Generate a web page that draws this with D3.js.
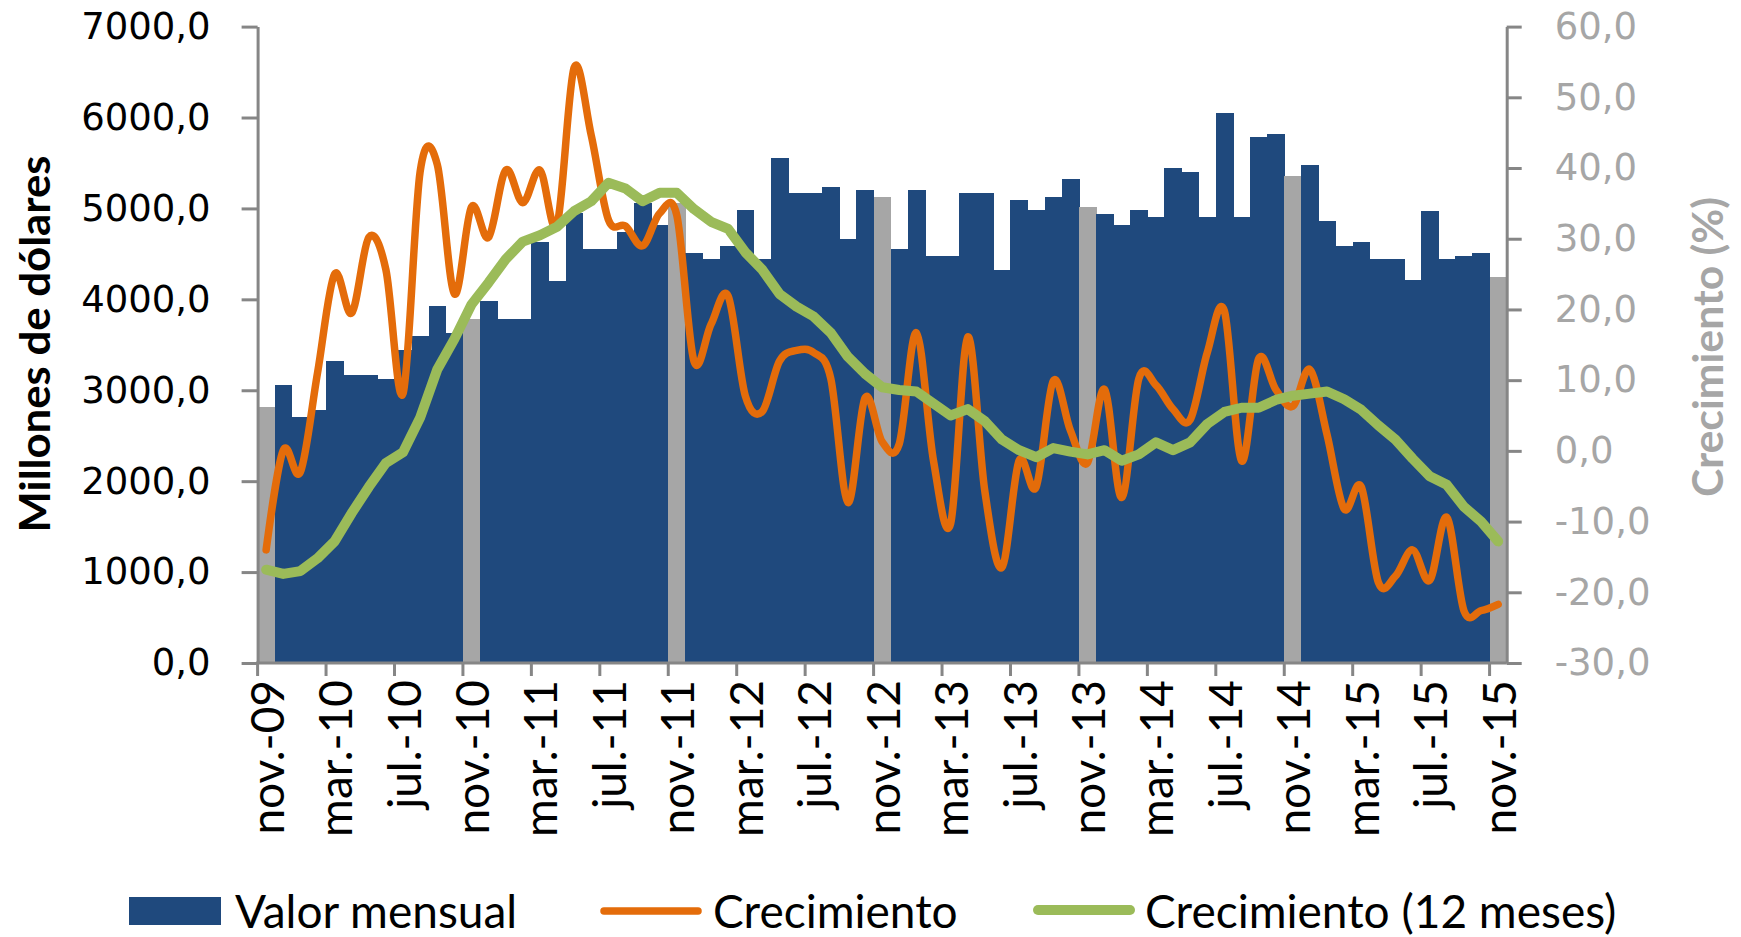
<!DOCTYPE html>
<html>
<head>
<meta charset="utf-8">
<script src="https://cdn.jsdelivr.net/npm/d3@7"></script>
<style>
  body { margin: 0; background: #fff; }
  svg { display: block; }
</style>
</head>
<body>
<svg id="chart" width="1741" height="937"></svg>
<script>
// monthly values, nov-09 .. nov-15
const valorMensual = [2820, 3053, 2709, 2785, 3321, 3168, 3168, 3129, 3440, 3593,
    3932, 3631, 3784, 3980, 3784, 3784, 4630, 4204, 4945, 4553,
    4553, 4744, 5065, 4821, 5055, 4515, 4439, 4591, 4978, 4439,
    5552, 5170, 5170, 5241, 4668, 5203, 5127, 4553, 5203, 4477,
    4477, 5170, 5170, 4324, 5088, 4978, 5131, 5323, 5017, 4940,
    4821, 4978, 4907, 5442, 5399, 4907, 6054, 4907, 5781, 5819,
    5356, 5475, 4864, 4591, 4630, 4439, 4439, 4209, 4974, 4439,
    4477, 4515, 4248];

const crecimiento = [-14.0, 0.1, -3.0, 11.0, 25.0, 19.5, 30.2, 25.6, 8.1, 39.5,
    40.5, 22.2, 34.5, 30.2, 39.7, 35.1, 39.7, 32.0, 54.2, 44.6,
    32.7, 31.8, 29.0, 33.6, 33.3, 12.7, 17.9, 21.9, 7.8, 5.6,
    12.7, 14.2, 13.9, 10.2, -7.3, 7.5, 1.3, 1.0, 16.7, -1.4,
    -10.3, 16.1, -5.7, -16.5, -1.4, -5.1, 9.9, 2.9, -1.7, 8.7,
    -6.6, 10.2, 9.3, 5.9, 4.4, 13.9, 19.8, -1.4, 13.0, 8.7,
    6.3, 11.5, 2.3, -8.2, -5.1, -18.6, -17.7, -14.0, -18.3, -9.4,
    -22.6, -22.6, -21.7];

const crecimiento12 = [-16.8, -17.4, -17.0, -15.2, -12.8, -8.8, -5.1, -1.7, -0.2, 4.7,
    11.5, 15.8, 20.7, 23.8, 27.1, 29.6, 30.5, 31.7, 33.9, 35.3,
    37.9, 37.1, 35.3, 36.5, 36.5, 34.2, 32.4, 31.4, 28.1, 25.6,
    22.2, 20.4, 19.0, 16.7, 13.3, 10.9, 9.0, 8.6, 8.4, 6.7,
    5.0, 5.9, 4.2, 1.6, 0.1, -0.9, 0.4, -0.1, -0.5, 0.1,
    -1.4, -0.5, 1.2, 0.1, 1.2, 3.8, 5.5, 6.1, 6.1, 7.2,
    7.8, 8.1, 8.4, 7.3, 5.8, 3.6, 1.6, -1.1, -3.6, -4.8,
    -7.9, -10.0, -12.8];

const monthNames = ["nov.", "dic.", "ene.", "feb.", "mar.", "abr.", "may.", "jun.", "jul.", "ago.", "sep.", "oct."];
const firstYear = 9;

const leftTicks = [0, 1000, 2000, 3000, 4000, 5000, 6000, 7000];
const rightTicks = [-30, -20, -10, 0, 10, 20, 30, 40, 50, 60];

const legendItems = ["Valor mensual", "Crecimiento", "Crecimiento (12 meses)"];
const leftTitle = "Millones de dólares";
const rightTitle = "Crecimiento (%)";

// month labels like "nov.-09"
const months = valorMensual.map((d, i) => {
    let y = firstYear + Math.floor((i + 10) / 12);
    return monthNames[i % 12] + "-" + String(y).padStart(2, "0");
});

const colors = { bar: "#1f497d", nov: "#a6a6a6", orange: "#e46c0a", green: "#9bbb59", axis: "#868686", grey: "#a6a6a6" };

const plotLeft = 257.6, plotRight = 1506.7, plotTop = 26.6, plotBottom = 663;

const svg = d3.select("#chart");

const x = d3.scaleBand().domain(months).range([plotLeft, plotRight]).padding(0);
const yL = d3.scaleLinear().domain([0, 7000]).range([plotBottom, plotTop]);
const yR = d3.scaleLinear().domain([-30, 60]).range([plotBottom, plotTop]);

const loc = d3.formatLocale({ decimal: ",", thousands: ".", grouping: [3], currency: ["$", ""], minus: "-" });
const fmt = loc.format(".1f");

// bars
svg.append("g")
    .attr("shape-rendering", "crispEdges")
    .selectAll("rect")
    .data(valorMensual)
    .enter()
    .append("rect")
    .attr("x", (d, i) => x(months[i]))
    .attr("y", d => yL(d))
    .attr("width", x.bandwidth() + 0.6)
    .attr("height", d => plotBottom - yL(d))
    .attr("fill", (d, i) => months[i].startsWith("nov") ? colors.nov : colors.bar);

// left axis
const axL = svg.append("g")
    .attr("transform", `translate(${plotLeft},0)`)
    .call(d3.axisLeft(yL).tickValues(leftTicks).tickFormat(fmt).tickSize(16).tickPadding(31).tickSizeOuter(0));
axL.select(".domain").attr("stroke", colors.axis).attr("stroke-width", 3);
axL.selectAll(".tick line").attr("stroke", colors.axis).attr("stroke-width", 3);
axL.selectAll(".tick text")
    .attr("font-family", "DejaVu Sans")
    .attr("font-size", 37)
    .attr("fill", "#000");

// right axis
const axR = svg.append("g")
    .attr("transform", `translate(${plotRight},0)`)
    .call(d3.axisRight(yR).tickValues(rightTicks).tickFormat(fmt).tickSize(15).tickPadding(33).tickSizeOuter(0));
axR.select(".domain").attr("stroke", colors.axis).attr("stroke-width", 3);
axR.selectAll(".tick line").attr("stroke", colors.axis).attr("stroke-width", 3);
axR.selectAll(".tick text")
    .attr("font-family", "DejaVu Sans")
    .attr("font-size", 37)
    .attr("fill", colors.grey);

// bottom axis
svg.append("line")
    .attr("x1", plotLeft - 1.5).attr("x2", plotRight)
    .attr("y1", plotBottom).attr("y2", plotBottom)
    .attr("stroke", colors.axis).attr("stroke-width", 3);

const labelled = months.filter((m, i) => i % 4 === 0);

svg.append("g")
    .selectAll("line")
    .data(labelled)
    .enter()
    .append("line")
    .attr("x1", d => x(d)).attr("x2", d => x(d))
    .attr("y1", plotBottom).attr("y2", plotBottom + 13)
    .attr("stroke", colors.axis).attr("stroke-width", 3);

svg.append("g")
    .selectAll("text")
    .data(labelled)
    .enter()
    .append("text")
    .attr("transform", d => `translate(${x(d) + x.bandwidth() / 2},${plotBottom + 17}) rotate(-90)`)
    .attr("text-anchor", "end")
    .attr("dy", "0.38em")
    .attr("font-family", "Lato")
    .attr("font-size", 46)
    .attr("fill", "#000")
    .text(d => d);

// lines
const cx = (d, i) => x(months[i]) + x.bandwidth() / 2;

svg.append("path")
    .datum(crecimiento)
    .attr("fill", "none")
    .attr("stroke", colors.orange)
    .attr("stroke-width", 7.5)
    .attr("stroke-linejoin", "round")
    .attr("stroke-linecap", "round")
    .attr("d", d3.line().x(cx).y(d => yR(d)).curve(d3.curveCardinal.tension(0)));

svg.append("path")
    .datum(crecimiento12)
    .attr("fill", "none")
    .attr("stroke", colors.green)
    .attr("stroke-width", 10)
    .attr("stroke-linejoin", "round")
    .attr("stroke-linecap", "round")
    .attr("d", d3.line().x(cx).y(d => yR(d)));

// axis titles
svg.append("text")
    .attr("transform", `translate(50,344) rotate(-90)`)
    .attr("text-anchor", "middle")
    .attr("font-family", "Lato")
    .attr("font-weight", "bold")
    .attr("font-size", 42)
    .attr("textLength", 377)
    .attr("lengthAdjust", "spacingAndGlyphs")
    .attr("fill", "#000")
    .text(leftTitle);

svg.append("text")
    .attr("transform", `translate(1723,347) rotate(-90)`)
    .attr("text-anchor", "middle")
    .attr("font-family", "Lato")
    .attr("font-weight", "bold")
    .attr("font-size", 42)
    .attr("textLength", 300)
    .attr("lengthAdjust", "spacingAndGlyphs")
    .attr("fill", colors.grey)
    .text(rightTitle);

// legend
const lg = svg.append("g").attr("font-family", "Lato").attr("font-size", 46).attr("fill", "#000");
lg.append("rect").attr("x", 129).attr("y", 897).attr("width", 92).attr("height", 28).attr("fill", colors.bar);
lg.append("text").attr("x", 235).attr("y", 928).text(legendItems[0]);
lg.append("line").attr("x1", 604).attr("x2", 698).attr("y1", 911).attr("y2", 911)
    .attr("stroke", colors.orange).attr("stroke-width", 7.5).attr("stroke-linecap", "round");
lg.append("text").attr("x", 713).attr("y", 928).text(legendItems[1]);
lg.append("line").attr("x1", 1038).attr("x2", 1130).attr("y1", 910).attr("y2", 910)
    .attr("stroke", colors.green).attr("stroke-width", 10).attr("stroke-linecap", "round");
lg.append("text").attr("x", 1145).attr("y", 928).text(legendItems[2]);
</script>
</body>
</html>
